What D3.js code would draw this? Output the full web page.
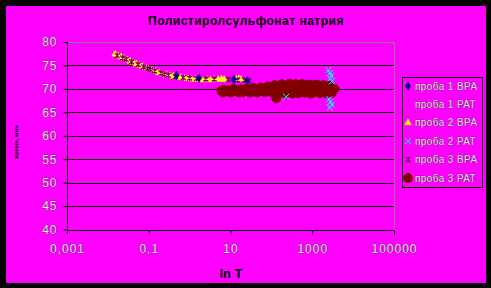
<!DOCTYPE html>
<html>
<head>
<meta charset="UTF-8">
<title>Полистиролсульфонат натрия</title>
<style>
body { margin: 0; background: #000; }
svg { display: block; }
text { font-family: "Liberation Sans", Arial, sans-serif; }
</style>
</head>
<body>
<script src="https://cdn.jsdelivr.net/npm/d3@7"></script>
<script>
// series values: [T, value]
var probe1BPA = [[0.48, 72.9], [1.7, 72.3], [12, 72.0], [26, 71.7]];
var probe1PAT = [];
var probe2BPA = [
  [0.015, 77.4], [0.018, 77.0], [0.021, 76.8], [0.025, 76.5], [0.03, 76.2],
  [0.035, 75.9], [0.042, 75.6], [0.05, 75.3], [0.06, 75.0], [0.07, 74.8],
  [0.085, 74.5], [0.1, 74.2], [0.12, 74.0], [0.15, 73.7], [0.18, 73.4],
  [0.22, 73.2], [0.27, 73.0], [0.33, 72.8], [0.4, 72.7], [0.5, 72.5],
  [0.6, 72.4], [0.75, 72.3], [0.9, 72.2], [1.1, 72.1], [1.4, 72.0],
  [1.8, 72.0], [2.2, 71.9], [2.7, 72.0], [3.3, 71.9], [4, 72.0],
  [5, 72.0], [6, 72.1], [7, 72.0], [14, 72.0], [16, 72.2], [18, 72.0]
];
var probe2PAT = [
  [230, 68.3], [2500, 74.0], [2700, 73.4], [2900, 72.8], [2800, 72.2],
  [3000, 71.6], [2600, 67.8], [2800, 67.2], [3000, 66.6], [2700, 66.0]
];
var probe3BPA = [
  [0.017, 77.1], [0.023, 76.6], [0.028, 76.3], [0.038, 75.8], [0.055, 75.2],
  [0.075, 74.7], [0.095, 74.3], [0.11, 74.1], [0.14, 73.8], [0.2, 73.4],
  [0.24, 73.1], [0.3, 72.9], [0.45, 72.6], [0.7, 72.4], [1, 72.3],
  [1.5, 72.2], [2.5, 72.1], [4, 72.1], [9, 72.0], [15, 71.9],
  [22, 71.9], [28, 71.8]
];
var probe3PAT = [
  [6, 69.6], [6.5, 69.2], [7, 69.8], [8, 69.5], [9, 69.7], [10, 69.2],
  [11, 69.4], [12, 70.0], [13, 69.8], [15, 69.6], [16, 69.2], [18, 69.9],
  [20, 69.3], [22, 69.5], [25, 70.1], [27, 69.8], [30, 69.2], [33, 69.4],
  [36, 70.2], [40, 69.9], [45, 69.2], [50, 69.7], [55, 70.3], [60, 70.1],
  [68, 69.3], [75, 69.6], [82, 70.5], [90, 70.2], [100, 69.3], [110, 69.9],
  [120, 70.8], [132, 68.0], [130, 70.4], [145, 69.0], [160, 69.5],
  [180, 71.0], [200, 70.5], [220, 69.0], [250, 69.8], [275, 71.1],
  [300, 70.8], [330, 69.0], [350, 69.4], [390, 71.0], [420, 70.6],
  [460, 69.1], [500, 69.7], [550, 71.0], [600, 70.9], [650, 69.2],
  [700, 70.2], [780, 70.9], [850, 69.5], [920, 69.0], [1000, 70.8],
  [1100, 69.3], [1200, 70.0], [1300, 70.9], [1400, 70.6], [1550, 69.1],
  [1700, 69.6], [1850, 70.8], [2000, 70.5], [2200, 69.1], [2400, 69.8],
  [2600, 70.8], [2800, 70.3], [3000, 69.2], [3200, 69.7], [3500, 70.0]
];

var seriesNames = ["проба 1 ВРА", "проба 1 РАТ", "проба 2 ВРА", "проба 2 РАТ", "проба 3 ВРА", "проба 3 РАТ"];
var xTicks = [0.001, 0.1, 10, 1000, 100000];
var xTickLabels = ["0,001", "0,1", "10", "1000", "100000"];
var yTicks = [40, 45, 50, 55, 60, 65, 70, 75, 80];
var chartTitle = "Полистиролсульфонат натрия";
var xTitle = "ln T";
var yTitle = "время, мин";

var width = 491, height = 288;
var plotL = 67, plotR = 394, plotT = 42, plotB = 229.5;

var svg = d3.select("body").append("svg")
  .attr("width", width)
  .attr("height", height);

// magenta chart area inside black frame
svg.append("rect").attr("x", 6).attr("y", 6).attr("width", 480).attr("height", 277)
  .attr("fill", "#ff00ff");

var x = d3.scaleLog().domain([0.001, 100000]).range([plotL, plotR]);
var y = d3.scaleLinear().domain([40, 80]).range([plotB, plotT]);

// grid lines
svg.append("g").selectAll("line")
  .data(yTicks.filter(function(d){ return d > 40 && d < 80; }))
  .enter().append("line")
  .attr("x1", plotL).attr("x2", plotR)
  .attr("y1", function(d){ return Math.round(y(d)) + 0.5; })
  .attr("y2", function(d){ return Math.round(y(d)) + 0.5; })
  .attr("stroke", "#000");

// plot border (top and right grey)
svg.append("path")
  .attr("d", "M" + plotL + "," + (Math.round(plotT) + 0.5) + "H" + (plotR + 0.5) + "V" + plotB)
  .attr("fill", "none").attr("stroke", "#808080");

var labelStyle = function(sel) {
  sel.attr("fill", "#e6e6e6")
    .attr("stroke", "#222")
    .attr("stroke-width", 0.5)
    .attr("paint-order", "stroke")
    .style("font-size", "12px")
    .style("letter-spacing", "1px");
};

var yAxis = svg.append("g")
  .attr("transform", "translate(" + (plotL + 0.5) + ",0)")
  .call(d3.axisLeft(y).tickValues(yTicks).tickSize(4).tickPadding(6).tickFormat(d3.format("d")));
yAxis.select(".domain").attr("stroke", "#000").attr("d", "M0," + plotT + "V" + (plotB + 4));
yAxis.selectAll(".tick line").attr("stroke", "#000");
yAxis.selectAll(".tick text").call(labelStyle).attr("font-family", null);

var xAxis = svg.append("g")
  .attr("transform", "translate(0," + (Math.round(plotB) + 0.5) + ")")
  .call(d3.axisBottom(x).tickValues(xTicks).tickSize(4).tickPadding(10)
    .tickFormat(function(d, i){ return xTickLabels[i]; }));
xAxis.select(".domain").attr("stroke", "#000").attr("d", "M" + plotL + ",0H" + plotR);
xAxis.selectAll(".tick line").attr("stroke", "#000");
xAxis.selectAll(".tick text").call(labelStyle).attr("font-family", null);

// titles
svg.append("text").attr("x", 246).attr("y", 25).attr("text-anchor", "middle")
  .style("font-size", "12px").style("font-weight", "bold").style("letter-spacing", "0.5px")
  .text(chartTitle);
svg.append("text").attr("x", 231).attr("y", 278).attr("text-anchor", "middle")
  .style("font-size", "13px").style("font-weight", "bold")
  .text(xTitle);
svg.append("text").attr("transform", "translate(18,142) rotate(-90)").attr("text-anchor", "middle")
  .style("font-size", "6px").style("font-weight", "bold")
  .text(yTitle);

// marker shapes
var markers = {
  diamond: function(g, c) {
    g.append("path").attr("d", d3.symbol().type(d3.symbolDiamond).size(22)())
      .attr("fill", c).attr("stroke", c).attr("stroke-width", 0.5);
  },
  none: function(g, c) {},
  triangle: function(g, c) {
    g.append("path").attr("d", d3.symbol().type(d3.symbolTriangle).size(20)())
      .attr("fill", c).attr("stroke", c).attr("stroke-width", 0.5);
  },
  cross: function(g, c) {
    g.append("path").attr("d", "M-3,-3L3,3M-3,3L3,-3")
      .attr("stroke", c).attr("stroke-width", 1).attr("fill", "none");
  },
  star: function(g, c) {
    g.append("path").attr("d", "M-2.5,-2.5L2.5,2.5M-2.5,2.5L2.5,-2.5M0,-3V3")
      .attr("stroke", c).attr("stroke-width", 1.3).attr("fill", "none");
  },
  circle: function(g, c) {
    g.append("circle").attr("r", 4.5).attr("fill", c).attr("stroke", c);
  }
};

var series = [
  {data: probe1BPA, marker: "diamond", color: "#000080"},
  {data: probe1PAT, marker: "none", color: "#ff00ff"},
  {data: probe2BPA, marker: "triangle", color: "#ffff00"},
  {data: probe2PAT, marker: "cross", color: "#00ffff"},
  {data: probe3BPA, marker: "star", color: "#800080"},
  {data: probe3PAT, marker: "circle", color: "#800000"}
];
series.forEach(function(s, i){ s.name = seriesNames[i]; });

// draw order: cyan crosses end up over the dark red blob
var drawOrder = [2, 4, 0, 1, 5, 3];
drawOrder.forEach(function(i) {
  var s = series[i];
  svg.append("g").selectAll("g")
    .data(s.data)
    .enter().append("g")
    .attr("transform", function(d){ return "translate(" + x(d[0]) + "," + y(d[1]) + ")"; })
    .each(function(){ markers[s.marker](d3.select(this), s.color); });
});

// legend
var legend = svg.append("g");
legend.append("rect").attr("x", 402.5).attr("y", 77.5).attr("width", 80).attr("height", 110)
  .attr("fill", "none").attr("stroke", "#000");
series.forEach(function(s, i) {
  var cy = 86 + i * 18.4;
  var g = legend.append("g").attr("transform", "translate(408," + cy + ")");
  markers[s.marker](g, s.color);
  legend.append("text").attr("x", 415).attr("y", cy + 3.5)
    .call(labelStyle).style("font-size", "10px").style("letter-spacing", "0.4px")
    .text(s.name);
});
</script>
</body>
</html>
